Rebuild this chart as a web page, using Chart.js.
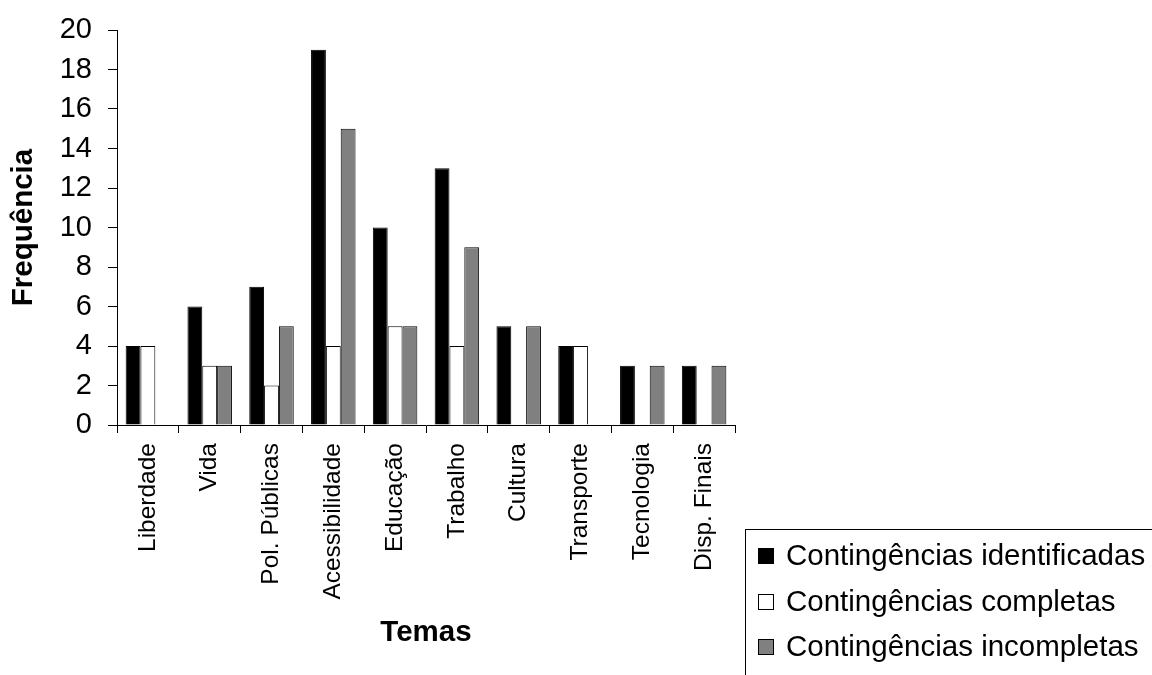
<!DOCTYPE html>
<html>
<head>
<meta charset="utf-8">
<script src="https://cdn.jsdelivr.net/npm/chart.js@4/dist/chart.umd.min.js"></script>
<style>
  html, body { margin: 0; padding: 0; background: #fff; }
  #wrap { width: 1152px; height: 675px; position: relative; }
</style>
</head>
<body>
<div id="wrap"><canvas id="c" width="1152" height="675"></canvas></div>
<script>
// Themes and frequencies of contingencies per theme
const categories = ['Liberdade', 'Vida', 'Pol. Públicas', 'Acessibilidade', 'Educação',
                    'Trabalho', 'Cultura', 'Transporte', 'Tecnologia', 'Disp. Finais'];
const identificadas = [4, 6, 7, 19, 10, 13, 5, 4, 3, 3];
const completas     = [4, 3, 2, 4, 5, 4, 0, 4, 0, 0];
const incompletas   = [0, 3, 5, 15, 5, 9, 5, 0, 3, 3];
const seriesNames = ['Contingências identificadas', 'Contingências completas', 'Contingências incompletas'];
const yMin = 0, yMax = 20, yStep = 2;

const FONT = '"Liberation Sans", Arial, sans-serif';
const colors = ['#000000', '#ffffff', '#808080'];

// Zero-valued bars are left empty (no outline)
const border = ctx => (ctx.raw === 0 ? 0 : 1);

function makeSet(label, data, color) {
  return {
    label, data,
    backgroundColor: color,
    borderColor: '#000000',
    borderWidth: border,
    barPercentage: 1,
    categoryPercentage: 0.72
  };
}

// Boxed legend in the lower-right corner
const boxLegend = {
  id: 'boxLegend',
  afterDraw(chart) {
    const ctx = chart.ctx;
    ctx.save();
    ctx.strokeStyle = '#000';
    ctx.lineWidth = 1;
    ctx.strokeRect(745.5, 529.5, 600, 300);
    ctx.font = '29.5px ' + FONT;
    ctx.textBaseline = 'middle';
    ctx.textAlign = 'left';
    const rows = [556, 602, 647];
    chart.data.datasets.forEach((ds, i) => {
      const y = rows[i];
      ctx.fillStyle = ds.backgroundColor;
      ctx.fillRect(758, y - 8, 16, 16);
      ctx.strokeStyle = '#000';
      ctx.strokeRect(758.5, y - 7.5, 15, 15);
      ctx.fillStyle = '#000';
      ctx.fillText(ds.label, 786, y + 1);
    });
    ctx.restore();
  }
};

new Chart(document.getElementById('c'), {
  type: 'bar',
  data: {
    labels: categories,
    datasets: [
      makeSet(seriesNames[0], identificadas, colors[0]),
      makeSet(seriesNames[1], completas, colors[1]),
      makeSet(seriesNames[2], incompletas, colors[2])
    ]
  },
  options: {
    responsive: false,
    devicePixelRatio: 1,
    animation: false,
    layout: { padding: { top: 30, right: 417, bottom: 0, left: 0 } },
    plugins: {
      legend: { display: false },
      tooltip: { enabled: false }
    },
    scales: {
      x: {
        grid: { offset: true, drawOnChartArea: false, color: '#000', tickLength: 8, lineWidth: 1 },
        border: { color: '#000', width: 1 },
        ticks: {
          color: '#000', font: { family: FONT, size: 24.5 },
          maxRotation: 90, minRotation: 90, autoSkip: false, padding: 10
        },
        title: {
          display: true, text: 'Temas', color: '#000',
          font: { family: FONT, size: 29.5, weight: 'bold' },
          padding: { top: 0, bottom: 24 }
        },
        afterFit(scale) { scale.height = 250; }
      },
      y: {
        min: yMin, max: yMax,
        grid: { drawOnChartArea: false, color: '#000', tickLength: 9, lineWidth: 1 },
        border: { color: '#000', width: 1 },
        ticks: { stepSize: yStep, color: '#000', font: { family: FONT, size: 29 }, padding: 16 },
        title: {
          display: true, text: 'Frequência', color: '#000',
          font: { family: FONT, size: 29.5, weight: 'bold' },
          padding: { top: 6, bottom: 0 }
        },
        afterFit(scale) {
          scale.width = 117;
          scale.paddingTop = 0;
          scale.paddingBottom = 0;
        }
      }
    }
  },
  plugins: [boxLegend]
});
</script>
</body>
</html>
